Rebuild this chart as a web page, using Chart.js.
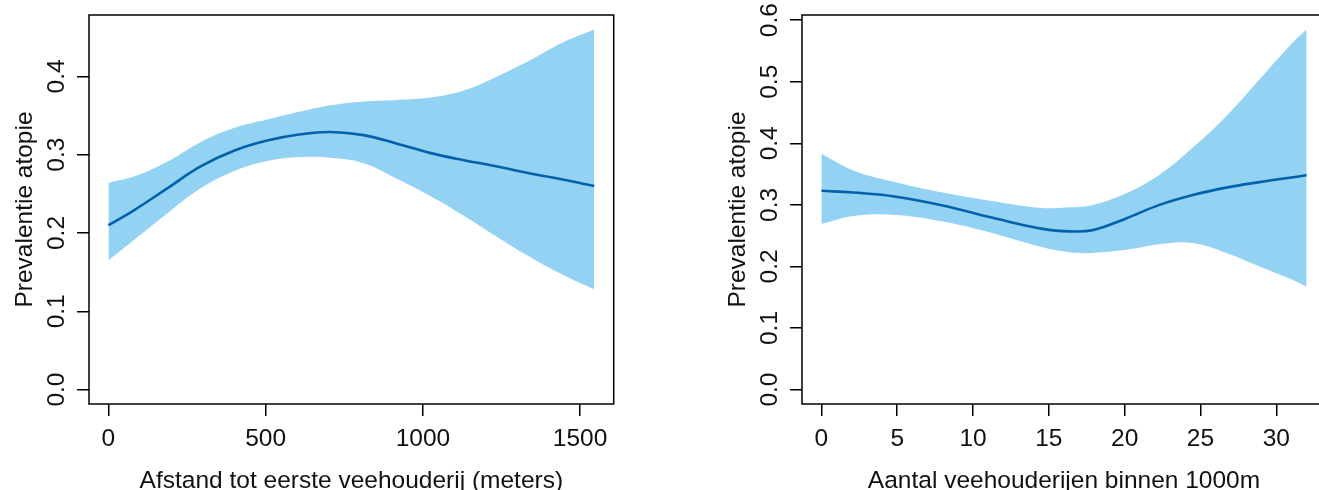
<!DOCTYPE html>
<html>
<head>
<meta charset="utf-8">
<script src="https://cdn.jsdelivr.net/npm/chart.js@4.4.1/dist/chart.umd.min.js"></script>
<style>
  html, body { margin: 0; padding: 0; background: #fff; overflow: hidden; }
  #wrap { position: relative; width: 1319px; height: 490px; overflow: hidden; }
  canvas { position: absolute; top: 0; }
  #left { left: 0; }
  #right { left: 660px; }
</style>
</head>
<body>
<div id="wrap">
  <canvas id="left" width="660" height="490"></canvas>
  <canvas id="right" width="680" height="490"></canvas>
</div>
<script>
// Links: afstand tot eerste veehouderij (meters)
const distX     = [0, 81, 187, 293, 399, 505, 611, 706, 812, 918, 1025, 1130, 1236, 1342, 1448, 1545];
const distUpper = [0.264, 0.272, 0.291, 0.316, 0.334, 0.345, 0.355, 0.363, 0.368, 0.370, 0.373, 0.382, 0.400, 0.421, 0.444, 0.460];
const distFit   = [0.210, 0.229, 0.257, 0.285, 0.305, 0.318, 0.326, 0.329, 0.325, 0.314, 0.302, 0.293, 0.285, 0.276, 0.268, 0.260];
const distLower = [0.165, 0.191, 0.225, 0.257, 0.279, 0.292, 0.297, 0.296, 0.289, 0.269, 0.247, 0.222, 0.195, 0.169, 0.146, 0.128];
const distXTicks = [0, 500, 1000, 1500];
const distYTicks = [0, 0.1, 0.2, 0.3, 0.4];
const distYLim   = [0, 0.46];

// Rechts: aantal veehouderijen binnen 1000m
const countX     = [0, 2.1, 4.7, 8.0, 11.3, 14.6, 16.4, 17.9, 20.1, 22.3, 24.5, 26.7, 28.9, 31.1, 32];
const countUpper = [0.383, 0.356, 0.338, 0.320, 0.306, 0.295, 0.296, 0.300, 0.319, 0.349, 0.393, 0.444, 0.504, 0.564, 0.585];
const countFit   = [0.323, 0.320, 0.314, 0.299, 0.279, 0.261, 0.257, 0.259, 0.278, 0.300, 0.316, 0.328, 0.337, 0.345, 0.348];
const countLower = [0.269, 0.282, 0.284, 0.273, 0.254, 0.231, 0.223, 0.222, 0.227, 0.236, 0.238, 0.222, 0.200, 0.178, 0.167];
const countXTicks = [0, 5, 10, 15, 20, 25, 30];
const countYTicks = [0, 0.1, 0.2, 0.3, 0.4, 0.5, 0.6];
const countYLim   = [0, 0.585];

const BAND = '#93d2f3';
const LINE = '#0062ab';
const FONT = '24.5px "Liberation Sans", Arial, sans-serif';

// R-style axes: box, rotated y labels, titles
const rAxes = {
  id: 'rAxes',
  afterDraw(chart, args, o) {
    const ctx = chart.ctx, a = chart.chartArea;
    const xs = chart.scales.x, ys = chart.scales.y;
    ctx.save();
    ctx.strokeStyle = '#000';
    ctx.lineWidth = 1.5;
    ctx.strokeRect(a.left, a.top, a.right - a.left, a.bottom - a.top);

    ctx.fillStyle = '#111';
    ctx.font = FONT;
    ctx.textAlign = 'center';
    ctx.textBaseline = 'alphabetic';
    xs.ticks.forEach(t => ctx.fillText(String(t.value), xs.getPixelForValue(t.value), a.bottom + 42));
    ctx.fillText(o.xTitle, (a.left + a.right) / 2, a.bottom + 84);

    ys.ticks.forEach(t => {
      ctx.save();
      ctx.translate(a.left - 25, ys.getPixelForValue(t.value));
      ctx.rotate(-Math.PI / 2);
      ctx.fillText(t.value.toFixed(1), 0, 0);
      ctx.restore();
    });
    ctx.save();
    ctx.translate(a.left - 57.5, (a.top + a.bottom) / 2);
    ctx.rotate(-Math.PI / 2);
    ctx.fillText(o.yTitle, 0, 0);
    ctx.restore();
    ctx.restore();
  }
};

function pts(xs, ys) {
  return xs.map((x, i) => ({ x: x, y: ys[i] }));
}

function makeChart(id, c) {
  const xPad = (c.x[c.x.length - 1] - c.x[0]) * 0.04;
  const yPad = (c.yLim[1] - c.yLim[0]) * 0.04;
  const axisGrid = { drawOnChartArea: false, drawTicks: true, tickLength: 12, color: '#000', lineWidth: 1.5 };
  return new Chart(document.getElementById(id), {
    type: 'line',
    data: {
      datasets: [
        // index 0 is drawn last, so the fitted line sits on top of the band
        { data: pts(c.x, c.fit), fill: false, borderColor: LINE, borderWidth: 2.6, pointRadius: 0 },
        { data: pts(c.x, c.upper), fill: '+1', backgroundColor: BAND, borderColor: 'transparent', borderWidth: 0, pointRadius: 0 },
        { data: pts(c.x, c.lower), fill: false, borderColor: 'transparent', borderWidth: 0, pointRadius: 0 }
      ]
    },
    options: {
      responsive: false,
      animation: false,
      devicePixelRatio: 1,
      layout: { padding: { top: 15, right: c.padRight, left: 0, bottom: 0 } },
      elements: { line: { tension: 0.4 } },
      plugins: {
        legend: { display: false },
        tooltip: { enabled: false },
        rAxes: { xTitle: c.xTitle, yTitle: c.yTitle }
      },
      scales: {
        x: {
          type: 'linear',
          min: c.x[0] - xPad,
          max: c.x[c.x.length - 1] + xPad,
          afterBuildTicks: s => { s.ticks = c.xTicks.map(v => ({ value: v })); },
          afterFit: s => { s.height = 86; },
          ticks: { display: false },
          grid: axisGrid,
          border: { display: false }
        },
        y: {
          type: 'linear',
          min: c.yLim[0] - yPad,
          max: c.yLim[1] + yPad,
          afterBuildTicks: s => { s.ticks = c.yTicks.map(v => ({ value: v })); },
          afterFit: s => { s.width = c.left; },
          ticks: { display: false },
          grid: axisGrid,
          border: { display: false }
        }
      }
    },
    plugins: [rAxes]
  });
}

makeChart('left', {
  x: distX, upper: distUpper, fit: distFit, lower: distLower,
  xTicks: distXTicks, yTicks: distYTicks, yLim: distYLim,
  left: 89, padRight: 46.3,
  xTitle: 'Afstand tot eerste veehouderij (meters)', yTitle: 'Prevalentie atopie'
});

makeChart('right', {
  x: countX, upper: countUpper, fit: countFit, lower: countLower,
  xTicks: countXTicks, yTicks: countYTicks, yLim: countYLim,
  left: 142, padRight: 14,
  xTitle: 'Aantal veehouderijen binnen 1000m', yTitle: 'Prevalentie atopie'
});
</script>
</body>
</html>
